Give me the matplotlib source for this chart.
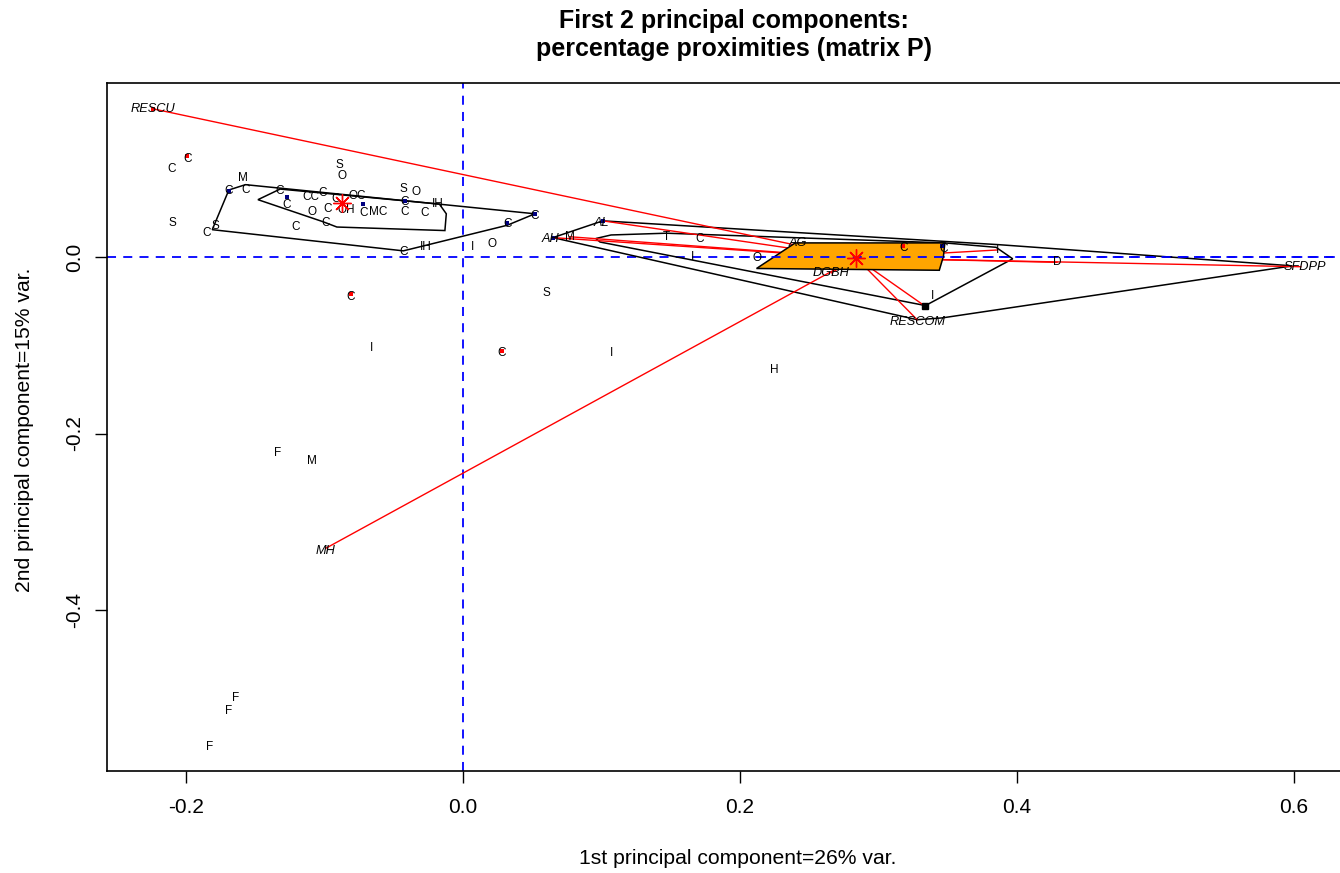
import numpy as np
import matplotlib.pyplot as plt
from matplotlib.patches import Polygon

plt.rcParams['font.family'] = ['Liberation Sans', 'DejaVu Sans']

# letter labels of the observations (scores on PC1 / PC2)
obs_txt = ["C", "C", "S", "M", "C", "C", "C", "S", "C", "C",
           "CC", "C", "C", "OH", "OC", "O", "C", "C", "C", "C",
           "MC", "S", "O", "C", "C", "C", "IH", "S", "O", "C",
           "IH", "C", "C", "I", "O",
           "C", "I", "S", "C", "I", "H", "F", "M", "F", "F", "F",
           "M", "T", "C", "I", "O", "C", "C", "I", "D", "I"]
obs_x = [-0.210, -0.199, -0.210, -0.159, -0.169, -0.157, -0.185, -0.179, -0.132, -0.127,
         -0.110, -0.101, -0.092, -0.084, -0.076, -0.109, -0.098, -0.099, -0.121, -0.072,
         -0.061, -0.043, -0.034, -0.042, -0.042, -0.028, -0.018, -0.089, -0.087, -0.043,
         -0.027, 0.052, 0.032, 0.007, 0.021,
         -0.081, -0.066, 0.060, 0.028, 0.107, 0.225, -0.134, -0.109, -0.164, -0.169, -0.183,
         0.077, 0.147, 0.171, 0.166, 0.212, 0.318, 0.347, 0.386, 0.429, 0.339]
obs_y = [0.100, 0.111, 0.039, 0.089, 0.075, 0.076, 0.027, 0.035, 0.075, 0.059,
         0.068, 0.073, 0.066, 0.053, 0.069, 0.051, 0.054, 0.039, 0.034, 0.050,
         0.051, 0.077, 0.074, 0.062, 0.051, 0.050, 0.060, 0.104, 0.092, 0.006,
         0.011, 0.047, 0.037, 0.011, 0.015,
         -0.045, -0.103, -0.041, -0.109, -0.109, -0.128, -0.222, -0.231, -0.500, -0.514, -0.555,
         0.023, 0.023, 0.020, 0.000, -0.001, 0.010, 0.009, 0.008, -0.006, -0.044]

# small coloured point marks
blue_x = [-0.169, -0.127, -0.072, -0.042, 0.052, 0.032, 0.065, 0.101, 0.346]
blue_y = [0.075, 0.068, 0.060, 0.063, 0.049, 0.039, 0.022, 0.041, 0.012]
red_x = [-0.199, -0.224, -0.081, 0.028, 0.318]
red_y = [0.114, 0.168, -0.042, -0.106, 0.013]

# supplementary units (italic)
sup_txt = ["RESCU", "MH", "AH", "AL", "AG", "DGBH", "RESCOM", "SFDPP"]
sup_x = [-0.224, -0.099, 0.063, 0.100, 0.242, 0.266, 0.328, 0.608]
sup_y = [0.168, -0.333, 0.020, 0.039, 0.016, -0.018, -0.074, -0.011]

# group centroids
cent_x = [-0.087, 0.284]
cent_y = [0.061, -0.001]

# members linked to the right centroid
link_x = [-0.224, -0.099, 0.065, 0.101, 0.077, 0.242, 0.266, 0.328, 0.334, 0.386, 0.429, 0.605]
link_y = [0.168, -0.330, 0.022, 0.041, 0.023, 0.016, -0.018, -0.071, -0.056, 0.008, -0.006, -0.011]

# hulls
hull_left_out_x = [-0.169, -0.157, 0.052, 0.032, -0.043, -0.181]
hull_left_out_y = [0.076, 0.082, 0.049, 0.036, 0.007, 0.031]
hull_left_in_x = [-0.148, -0.132, -0.017, -0.012, -0.013, -0.091, -0.101]
hull_left_in_y = [0.065, 0.077, 0.060, 0.049, 0.030, 0.034, 0.040]
hull_right_out_x = [0.065, 0.101, 0.387, 0.599, 0.346, 0.328]
hull_right_out_y = [0.022, 0.041, 0.014, -0.010, -0.069, -0.071]
hull_right_in_x = [0.096, 0.107, 0.147, 0.348, 0.385, 0.397, 0.334, 0.099]
hull_right_in_y = [0.021, 0.025, 0.027, 0.016, 0.011, -0.002, -0.055, 0.017]
core_x = [0.212, 0.240, 0.348, 0.347, 0.344, 0.214]
core_y = [-0.013, 0.016, 0.016, 0.001, -0.015, -0.013]

fig = plt.figure(figsize=(13.4, 8.73), dpi=100)
ax = fig.add_axes([107 / 1340, 102 / 873, (1370 - 107) / 1340, (771 - 83) / 873])
ax.set_xlim(-0.257, 0.655)
ax.set_ylim(-0.5824, 0.1972)

# axes through origin
ax.axhline(0, color='blue', lw=1.3, ls=(0, (5, 4)), zorder=1)
ax.axvline(0, color='blue', lw=1.3, ls=(0, (5, 4)), zorder=1)

# hulls
for hx, hy in [(hull_left_out_x, hull_left_out_y), (hull_left_in_x, hull_left_in_y),
               (hull_right_out_x, hull_right_out_y), (hull_right_in_x, hull_right_in_y)]:
    ax.add_patch(Polygon(np.column_stack([hx, hy]), closed=True, fill=False,
                         ec='black', lw=1.1, zorder=2))

# links to right centroid
for lx, ly in zip(link_x, link_y):
    ax.plot([lx, cent_x[1]], [ly, cent_y[1]], color='red', lw=1.0, zorder=3)

ax.add_patch(Polygon(np.column_stack([core_x, core_y]), closed=True,
                     fc='#ffa500', ec='black', lw=1.1, zorder=4))
ax.axhline(0, xmin=0.5, color='blue', lw=1.3, ls=(0, (5, 4)), zorder=4.5)

ax.plot(blue_x, blue_y, 's', color='#000080', ms=2.5, mew=0, zorder=5)
ax.plot(red_x, red_y, 's', color='red', ms=2.5, mew=0, zorder=5)
ax.plot([0.334], [-0.056], 's', color='black', ms=5, zorder=5)

for t, x, y in zip(obs_txt, obs_x, obs_y):
    ax.text(x, y, t, ha='center', va='center', fontsize=8.5, zorder=6)
for t, x, y in zip(sup_txt, sup_x, sup_y):
    ax.text(x, y, t, ha='center', va='center', fontsize=9.2, style='italic', zorder=6)

ax.plot(cent_x, cent_y, marker=(8, 2, 0), color='red', ms=13, mew=1.0, ls='none', zorder=7)

ax.set_xticks([-0.2, 0.0, 0.2, 0.4, 0.6])
ax.set_xticklabels(["-0.2", "0.0", "0.2", "0.4", "0.6"])
ax.set_yticks([-0.4, -0.2, 0.0])
ax.set_yticklabels(["-0.4", "-0.2", "0.0"], rotation=90, va='center')
ax.tick_params(axis='x', length=8.6, width=1, pad=11, labelsize=15)
ax.tick_params(axis='y', length=8.6, width=1, pad=8, labelsize=15)
for s in ax.spines.values():
    s.set_linewidth(1.2)

fig.text(738 / 1340, 1 - 858 / 873, "1st principal component=26% var.",
         ha='center', va='center', fontsize=15.2)
fig.text(25 / 1340, 1 - 430 / 873, "2nd principal component=15% var.",
         ha='center', va='center', rotation=90, fontsize=15.2)
fig.text(734 / 1340, 1 - 35 / 873,
         "First 2 principal components:\npercentage proximities (matrix P)",
         ha='center', va='center', fontsize=18, fontweight='bold', linespacing=1.2)

fig.savefig("out.png", dpi=100)
